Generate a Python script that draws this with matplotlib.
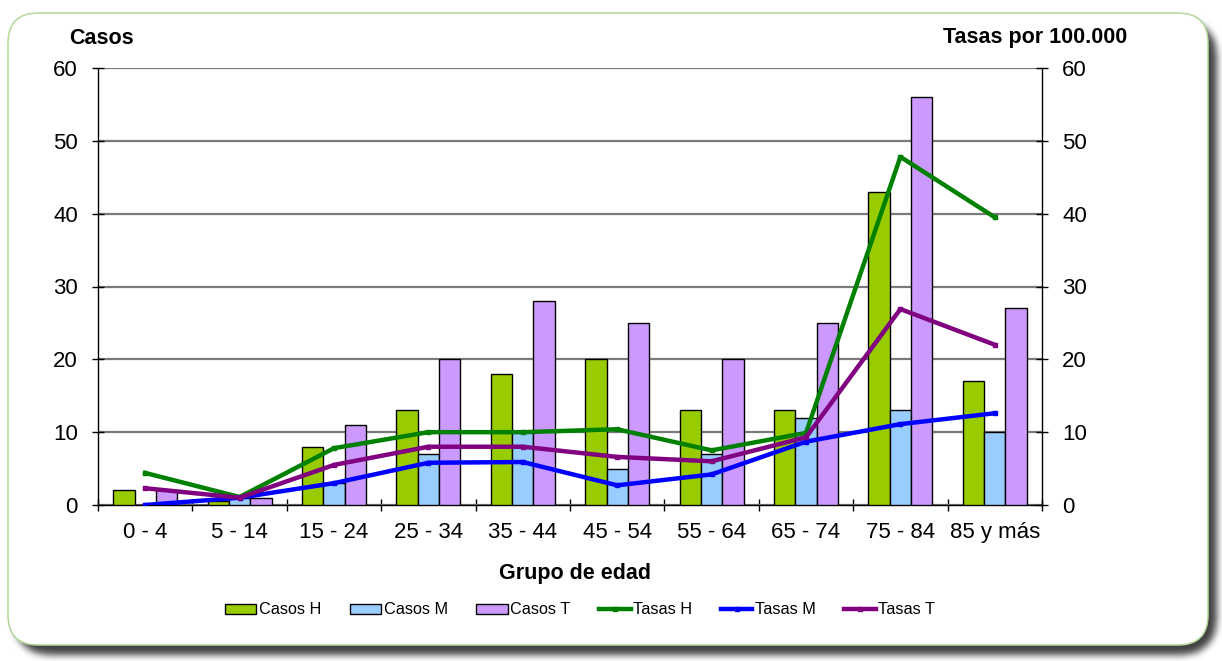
import numpy as np
import matplotlib
matplotlib.use("Agg")
import matplotlib.pyplot as plt
from matplotlib.patches import FancyBboxPatch, Patch
from matplotlib.lines import Line2D

plt.rcParams["font.family"] = ["Liberation Sans", "DejaVu Sans"]

# Casos y tasas por grupo de edad
grupos = ["0 - 4", "5 - 14", "15 - 24", "25 - 34", "35 - 44", "45 - 54",
          "55 - 64", "65 - 74", "75 - 84", "85 y más"]
casos_h = [2, 0.5, 8, 13, 18, 20, 13, 13, 43, 17]
casos_m = [0, 1, 3, 7, 10, 5, 7, 12, 13, 10]
casos_t = [2, 1, 11, 20, 28, 25, 20, 25, 56, 27]
tasas_h = [4.4, 1.1, 7.8, 10.0, 10.0, 10.4, 7.5, 9.9, 47.8, 39.5]
tasas_m = [0.0, 1.0, 3.0, 5.8, 5.9, 2.7, 4.2, 8.7, 11.1, 12.6]
tasas_t = [2.3, 1.0, 5.5, 8.0, 8.0, 6.6, 6.0, 9.3, 26.9, 22.0]

W, H = 1222, 661
fig = plt.figure(figsize=(W / 100, H / 100), dpi=100)
fig.patch.set_facecolor("white")


def fx(px):
    return px / W


def fy(py):
    return 1 - py / H


# --- rounded panel with soft drop shadow ---
def rounded_mask(x0, y0, x1, y1, r):
    yy, xx = np.mgrid[0:H, 0:W].astype(float)
    cx = np.clip(xx, x0 + r, x1 - r)
    cy = np.clip(yy, y0 + r, y1 - r)
    inside = (xx >= x0) & (xx <= x1) & (yy >= y0) & (yy <= y1)
    return (inside & ((xx - cx) ** 2 + (yy - cy) ** 2 <= r ** 2)).astype(float)


def box_blur(a, k):
    kern = np.ones(k) / k
    a = np.apply_along_axis(lambda v: np.convolve(v, kern, mode="same"), 0, a)
    a = np.apply_along_axis(lambda v: np.convolve(v, kern, mode="same"), 1, a)
    return a


shadow = rounded_mask(14, 20, 1216, 654, 32)
for _ in range(3):
    shadow = box_blur(shadow, 7)
rgba = np.zeros((H, W, 4))
rgba[..., 0:3] = 0.18
rgba[..., 3] = shadow * 0.9

bg = fig.add_axes([0, 0, 1, 1], zorder=-5)
bg.set_xlim(0, W)
bg.set_ylim(H, 0)
bg.axis("off")
bg.imshow(rgba, extent=(0, W, H, 0), interpolation="bilinear")
bg.add_patch(FancyBboxPatch((8 + 30, 13 + 30), 1200 - 60, 632 - 60,
                            boxstyle="round,pad=30", fc="white",
                            ec="#b5d898", lw=1.1))

# --- main chart ---
ax = fig.add_axes([fx(98), fy(505), (1042 - 98) / W, (505 - 68) / H])
ax.set_facecolor("white")
x = np.arange(len(grupos))
bw = 0.226
bar_kw = dict(width=bw, edgecolor="black", linewidth=1.0, zorder=3)
ax.bar(x - bw, casos_h, color="#99cc00", **bar_kw)
ax.bar(x, casos_m, color="#99ccff", **bar_kw)
ax.bar(x + bw, casos_t, color="#cc99ff", **bar_kw)

ax.set_xlim(-0.5, len(grupos) - 0.5)
ax.set_ylim(0, 60)
ax.set_yticks(range(0, 61, 10))
ax.yaxis.grid(True, color="#7a7a7a", lw=1.6, zorder=0)
ax.set_axisbelow(True)
ax.set_xticks(x)
ax.set_xticklabels(grupos)
ax.set_xticks(np.arange(-0.5, len(grupos)), minor=True)
ax.tick_params(axis="x", which="major", length=0, labelsize=16, pad=12)
ax.tick_params(axis="x", which="minor", direction="inout", length=9, width=1)
ax.tick_params(axis="y", direction="inout", length=9, width=1,
               labelsize=16, pad=10)
for s in ("top", "right"):
    ax.spines[s].set_visible(False)
for s in ("left", "bottom"):
    ax.spines[s].set_color("black")
    ax.spines[s].set_linewidth(1.0)

ax2 = ax.twinx()
ax2.set_ylim(0, 60)
ax2.set_yticks(range(0, 61, 10))
ax2.tick_params(axis="y", direction="inout", length=9, width=1,
                labelsize=16, pad=10)
for s in ("top", "left", "bottom"):
    ax2.spines[s].set_visible(False)
ax2.spines["right"].set_color("black")
ax2.spines["right"].set_linewidth(1.0)

line_kw = dict(lw=3.2, marker="s", ms=3.5, zorder=4)
ax2.plot(x, tasas_h, color="#008000", **line_kw)
ax2.plot(x, tasas_m, color="#0000ff", **line_kw)
ax2.plot(x, tasas_t, color="#800080", **line_kw)

fig.text(fx(101), fy(39), "Casos", ha="center", va="center",
         fontsize=15.5, fontweight="bold")
fig.text(fx(1127), fy(37), "Tasas por 100.000", ha="right", va="center",
         fontsize=15.5, fontweight="bold")
fig.text(fx(575), fy(574), "Grupo de edad", ha="center", va="center",
         fontsize=15.5, fontweight="bold")

handles = [
    Patch(fc="#99cc00", ec="black", lw=1.0),
    Patch(fc="#99ccff", ec="black", lw=1.0),
    Patch(fc="#cc99ff", ec="black", lw=1.0),
    Line2D([], [], color="#008000", lw=3.2, marker="s", ms=3.5),
    Line2D([], [], color="#0000ff", lw=3.2, marker="s", ms=3.5),
    Line2D([], [], color="#800080", lw=3.2, marker="s", ms=3.5),
]
labels = ["Casos H", "Casos M", "Casos T", "Tasas H", "Tasas M", "Tasas T"]
fig.legend(handles, labels, loc="center", ncol=6,
           bbox_to_anchor=(fx(580), fy(610)), frameon=False,
           handlelength=1.95, handleheight=0.6, handletextpad=0.15,
           columnspacing=1.75,
           prop={"family": ["Liberation Sans Narrow", "Liberation Sans"],
                 "size": 11.7})

fig.savefig("out.png", dpi=100)
